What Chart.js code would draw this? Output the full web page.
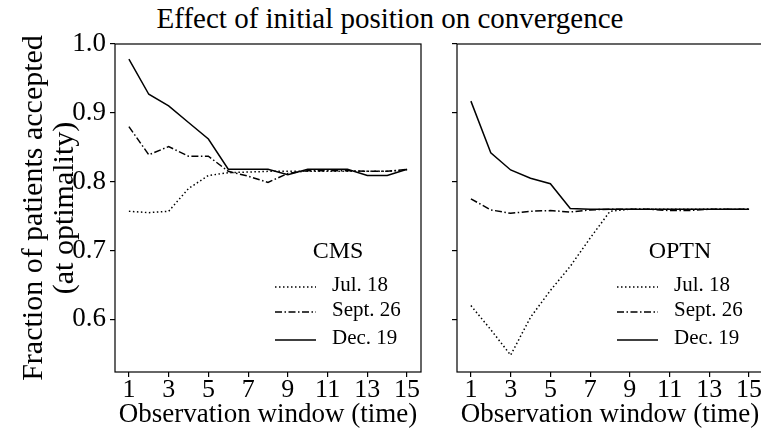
<!DOCTYPE html>
<html>
<head>
<meta charset="utf-8">
<script src="https://cdn.jsdelivr.net/npm/chart.js@4/dist/chart.umd.min.js"></script>
<style>
  html, body { margin: 0; padding: 0; background: #fff; }
  body { width: 761px; height: 435px; position: relative; overflow: hidden; }
  #title {
    position: absolute; left: 0; top: 1px; width: 780px; text-align: center;
    font-family: 'Liberation Serif', serif; font-size: 29px; line-height: 34px; color: #000;
  }
  #cmsChart { position: absolute; left: 0; top: 0; }
  #optnChart { position: absolute; left: 440px; top: 0; }
</style>
</head>
<body>
<div id="title">Effect of initial position on convergence</div>
<canvas id="cmsChart" width="430" height="435"></canvas>
<canvas id="optnChart" width="335" height="435"></canvas>
<script>
/* ================= DATA ================= */
const windows = [1, 2, 3, 4, 5, 6, 7, 8, 9, 10, 11, 12, 13, 14, 15];
const xTicks = [1, 3, 5, 7, 9, 11, 13, 15];
const yTicks = [0.6, 0.7, 0.8, 0.9, 1.0];
const seriesNames = ['Jul. 18', 'Sept. 26', 'Dec. 19'];

const cmsJul  = [0.757, 0.755, 0.757, 0.790, 0.809, 0.813, 0.814, 0.815, 0.815, 0.815, 0.815, 0.815, 0.815, 0.815, 0.817];
const cmsSept = [0.880, 0.839, 0.851, 0.837, 0.837, 0.815, 0.808, 0.799, 0.812, 0.816, 0.816, 0.816, 0.815, 0.815, 0.818];
const cmsDec  = [0.978, 0.927, 0.910, 0.886, 0.862, 0.818, 0.818, 0.818, 0.810, 0.818, 0.818, 0.818, 0.809, 0.809, 0.818];

const optnJul  = [0.620, 0.585, 0.548, 0.603, 0.642, 0.677, 0.718, 0.757, 0.760, 0.760, 0.760, 0.760, 0.760, 0.760, 0.760];
const optnSept = [0.775, 0.759, 0.754, 0.757, 0.758, 0.756, 0.759, 0.760, 0.760, 0.760, 0.758, 0.758, 0.760, 0.760, 0.760];
const optnDec  = [0.917, 0.842, 0.817, 0.805, 0.797, 0.761, 0.760, 0.760, 0.760, 0.760, 0.760, 0.760, 0.760, 0.760, 0.760];

/* ================= STYLE ================= */
const FONT = "'Liberation Serif', serif";
const lineStyles = [
    { borderDash: [1.5, 2.5] },          // dotted
    { borderDash: [7, 2.5, 1.5, 2.5] },  // dash-dot
    { borderDash: [] }                   // solid
];

const toPoints = vals => vals.map((v, i) => ({ x: windows[i], y: v }));

function makeDatasets(series) {
    return series.map((vals, i) => ({
        label: seriesNames[i],
        data: toPoints(vals),
        borderColor: '#000',
        borderWidth: 1.5,
        borderDash: lineStyles[i].borderDash,
        pointRadius: 0,
        tension: 0,
        fill: false
    }));
}

/* ================= FRAME + LEGEND PLUGIN ================= */
const framePlugin = {
    id: 'frame',
    afterDraw(chart, args, opts) {
        const { ctx, chartArea: a } = chart;
        ctx.save();
        ctx.strokeStyle = '#000';
        ctx.lineWidth = 1.2;
        ctx.strokeRect(a.left, a.top, a.right - a.left, a.bottom - a.top);

        // legend in lower right of plot
        ctx.fillStyle = '#000';
        ctx.textBaseline = 'middle';
        ctx.textAlign = 'center';
        ctx.font = '24px ' + FONT;
        ctx.fillText(opts.title, a.right - 83, a.bottom - 120);
        ctx.font = '21px ' + FONT;
        const rows = [a.bottom - 85, a.bottom - 60, a.bottom - 32];
        chart.data.datasets.forEach((ds, i) => {
            ctx.beginPath();
            ctx.setLineDash(ds.borderDash);
            ctx.lineWidth = ds.borderWidth;
            ctx.moveTo(a.right - 146, rows[i]);
            ctx.lineTo(a.right - 105, rows[i]);
            ctx.stroke();
            ctx.setLineDash([]);
            ctx.textAlign = 'left';
            ctx.fillText(ds.label, a.right - 89, rows[i] - 2);
        });
        ctx.restore();
    }
};

function makeOptions(panel, showYLabels) {
    return {
        responsive: false,
        animation: false,
        devicePixelRatio: 1,
        layout: {
            padding: { top: 44, right: showYLabels ? 9 : 12, bottom: 0, left: 0 }
        },
        plugins: {
            legend: { display: false },
            tooltip: { enabled: false },
            frame: { title: panel }
        },
        scales: {
            x: {
                type: 'linear',
                min: 0.3,
                max: 15.7,
                afterBuildTicks: s => { s.ticks = xTicks.map(v => ({ value: v })); },
                afterFit: s => { s.height = 63; },
                grid: { display: true, drawOnChartArea: false, drawTicks: true, tickLength: 5, color: '#000', lineWidth: 1.2 },
                border: { display: false },
                ticks: { color: '#000', font: { family: FONT, size: 26, lineHeight: 1 }, padding: 0, maxRotation: 0, autoSkip: false },
                title: {
                    display: true,
                    text: 'Observation window (time)',
                    color: '#000',
                    font: { family: FONT, size: 27, lineHeight: 1 },
                    padding: { top: 0, bottom: 7 }
                }
            },
            y: {
                min: 0.5235,
                max: 1.0,
                afterBuildTicks: s => { s.ticks = yTicks.map(v => ({ value: v })); },
                afterFit: s => { s.width = showYLabels ? 115 : 17; },
                grid: { display: true, drawOnChartArea: false, drawTicks: true, tickLength: 5, color: '#000', lineWidth: 1.2 },
                border: { display: false },
                ticks: {
                    color: '#000',
                    font: { family: FONT, size: 27 },
                    padding: 4,
                    callback: v => showYLabels ? v.toFixed(1) : ''
                },
                title: {
                    display: showYLabels,
                    text: ['Fraction of patients accepted', '(at optimality)'],
                    color: '#000',
                    font: { family: FONT, size: 30, lineHeight: 1.05 },
                    padding: { top: 18, bottom: 0 }
                }
            }
        }
    };
}

/* ================= CMS PANEL ================= */
new Chart(document.getElementById('cmsChart'), {
    type: 'line',
    data: { datasets: makeDatasets([cmsJul, cmsSept, cmsDec]) },
    options: makeOptions('CMS', true),
    plugins: [framePlugin]
});

/* ================= OPTN PANEL ================= */
new Chart(document.getElementById('optnChart'), {
    type: 'line',
    data: { datasets: makeDatasets([optnJul, optnSept, optnDec]) },
    options: makeOptions('OPTN', false),
    plugins: [framePlugin]
});
</script>
</body>
</html>
